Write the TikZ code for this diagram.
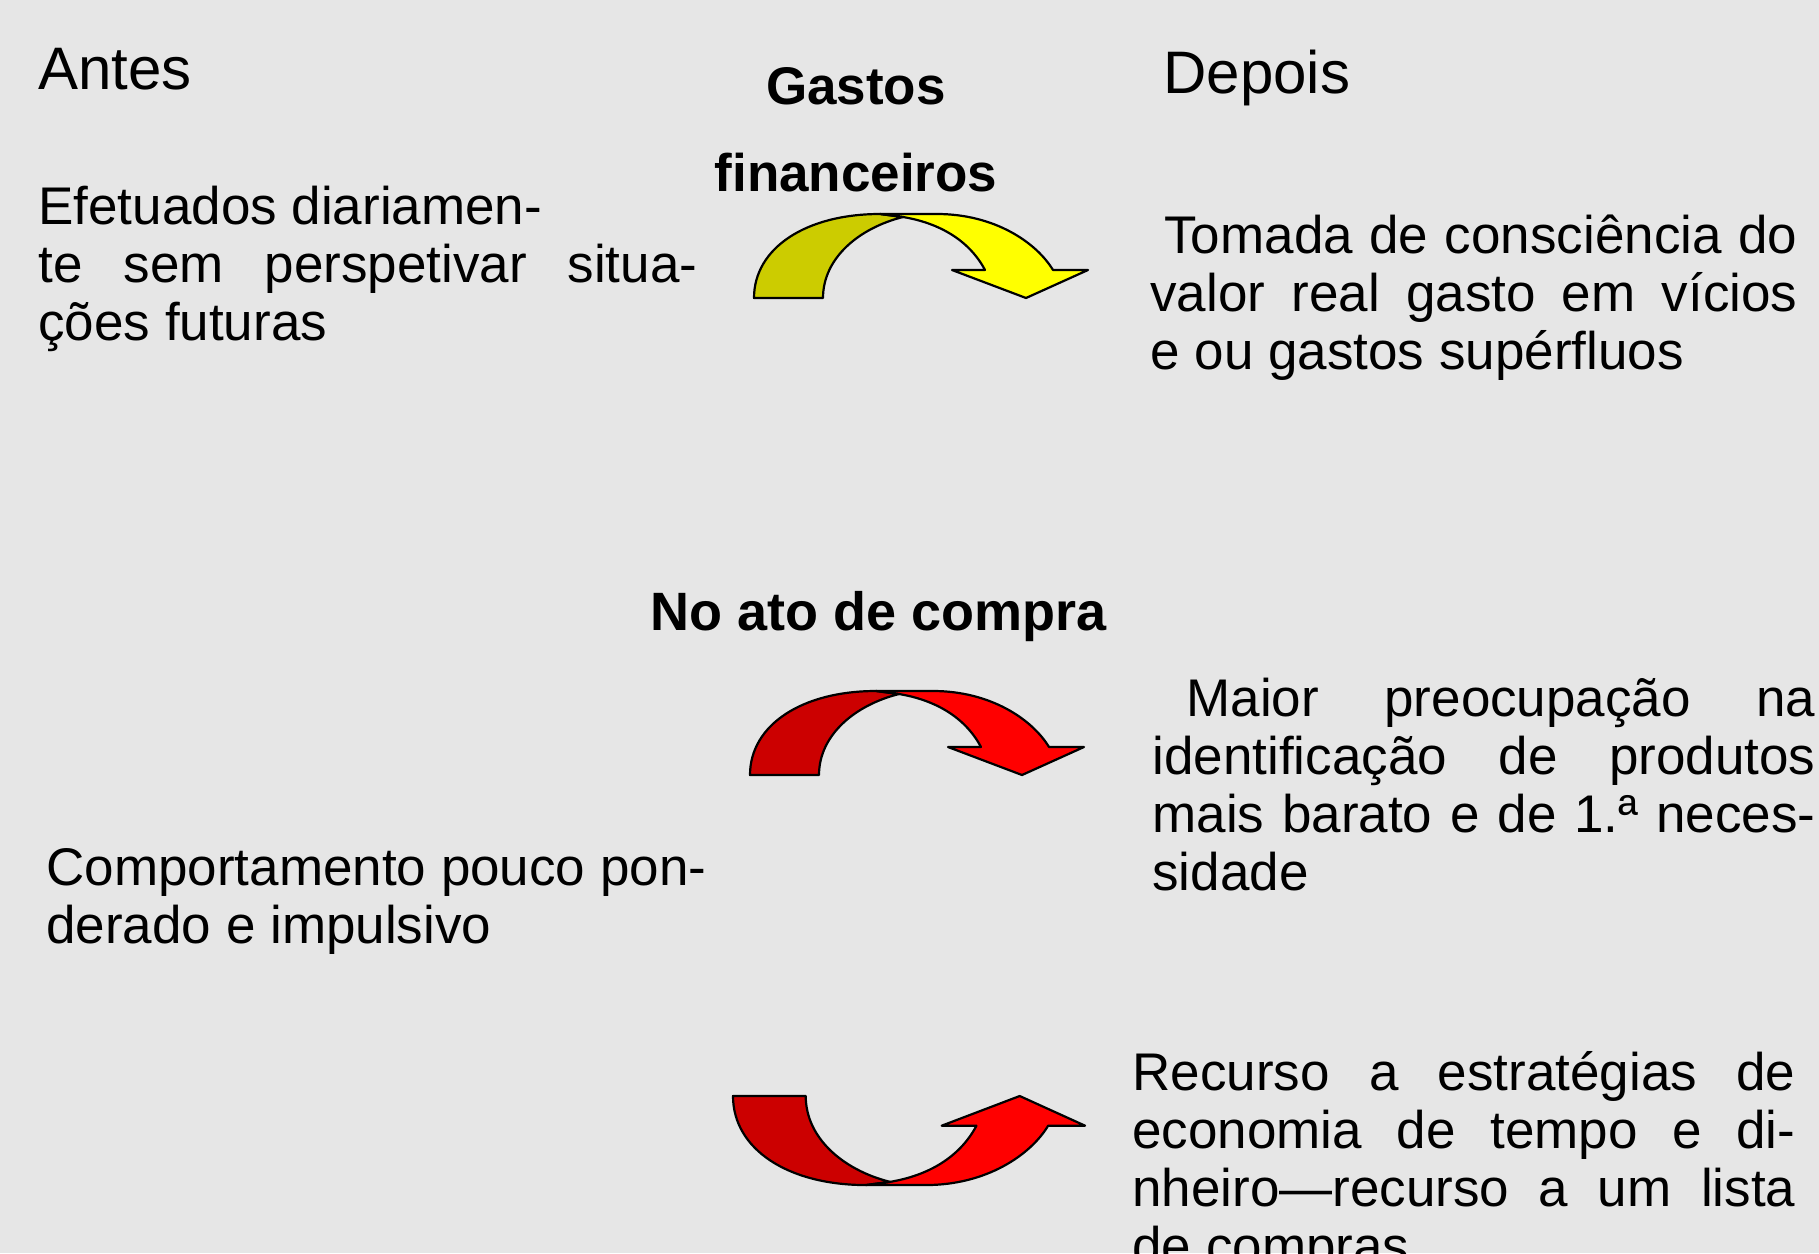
\documentclass[tikz,border=0pt]{standalone}
\usepackage{fontspec}
\setmainfont{Liberation Sans}
\usepackage{xcolor}
\definecolor{bgGrey}{HTML}{E6E6E6}
\definecolor{oliveTail}{HTML}{CCCC00}
\definecolor{yellowHead}{HTML}{FFFF00}
\definecolor{redTail}{HTML}{CC0000}
\definecolor{redHead}{HTML}{FF0000}

% one justified line of a given width
\newcommand{\fullline}[2]{\leavevmode
  \hbox to #1{\spaceskip=\fontdimen2\font plus 1fil\relax #2}}

\tikzset{
  tailcol/.store in=\tailcol, headcol/.store in=\headcol,
  bentarrow/.pic={
    \filldraw[fill=\tailcol, draw=black, line width=1.1pt, line join=round]
      (0,0) .. controls (0,-50) and (52,-84) .. (126,-84) -- (149,-81)
      .. controls (105,-70) and (69,-40) .. (69,0) -- cycle;
    \filldraw[fill=\headcol, draw=black, line width=1.1pt, line join=round]
      (126,-84) -- (183,-84) .. controls (240,-84) and (282,-56) .. (299,-28)
      -- (334,-28) -- (272,0) -- (198,-28) -- (231,-28)
      .. controls (215,-58) and (185,-75) .. (149,-81) -- cycle;
  },
}

\begin{document}
\begin{tikzpicture}[
  x=0.5pt, y=-0.5pt,
  head/.style={font=\fontsize{30}{36}\selectfont, inner sep=0pt, anchor=base west},
  topic/.style={font=\bfseries\fontsize{26.5}{43.5}\selectfont, inner sep=0pt,
                align=center, anchor=base},
  body/.style={font=\fontsize{26.5}{29}\selectfont, inner sep=0pt, align=left,
               anchor=base west,
               execute at begin node={\spaceskip=0pt\xspaceskip=0pt\relax}},
]
  \fill[bgGrey] (0,0) rectangle (1819,1253);
  \useasboundingbox (0,0) rectangle (1819,1253);

  % headings
  \node[head] (antes) at (38,89) {Antes};
  \node[head] (depois) at (1163,93) {Depois};
  \node[topic] (gastos) at (856,191) {Gastos\\financeiros};
  \node[topic, font=\bfseries\fontsize{27}{32}\selectfont] (compra) at (879,630) {No ato de compra};

  % before
  \node[body, text width=330pt] (efetuados) at (38,224)
    {Efetuados diariamen-\\
     \fullline{329.5pt}{te sem perspetivar situa-}\\
     ções futuras};
  \node[body, text width=332pt] (comportamento) at (46,885)
    {Comportamento pouco pon-\\derado e impulsivo};

  % after
  \node[body, text width=324pt] (tomada) at (1150,253)
    {\fullline{323.5pt}{\hspace*{7pt}Tomada de consciência do}\\
     \fullline{323.5pt}{valor real gasto em vícios}\\
     e ou gastos supérfluos};
  \node[body, text width=332pt] (maior) at (1152,716)
    {\fullline{331.5pt}{\hspace*{17pt}Maior preocupação na}\\
     \fullline{331.5pt}{identificação de produtos}\\
     \fullline{331.5pt}{mais barato e de 1.ª neces-}\\
     sidade};
  \node[body, text width=332pt] (recurso) at (1132,1090)
    {\fullline{331.5pt}{Recurso a estratégias de}\\
     \fullline{331.5pt}{economia de tempo e di-}\\
     \fullline{331.5pt}{nheiro—recurso a um lista}\\
     de compras};

  % curved arrows
  \pic[tailcol=oliveTail, headcol=yellowHead] (gastosarrow) at (754,298) {bentarrow};
  \pic[tailcol=redTail, headcol=redHead] (compraarrow) at (750,775) {bentarrow};
  \pic[tailcol=redTail, headcol=redHead, xscale=1.054, yscale=-1.06] (recursoarrow)
    at (733,1096) {bentarrow};
\end{tikzpicture}
\end{document}
